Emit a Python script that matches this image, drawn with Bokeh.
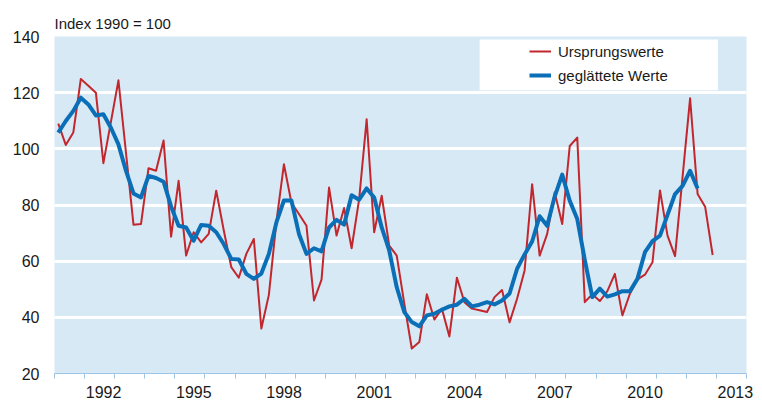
from bokeh.plotting import figure
from bokeh.models import (FixedTicker, CustomJSTickFormatter, Legend, LegendItem,
                          BoxAnnotation, Range1d)
from bokeh.embed import file_html
from bokeh.resources import INLINE

# ---------------- data (quarterly, 1991 Q1 .. 2012 Q4) ----------------
start_year = 1991
end_year = 2012

ursprungswerte = [
    109.0, 101.4, 105.8, 124.9,   # 1991
    122.5, 120.0, 94.9, 109.6,    # 1992
    124.4, 98.7, 73.0, 73.2,      # 1993
    93.1, 92.2, 103.0, 68.7,      # 1994
    88.6, 62.0, 70.3, 66.7,       # 1995
    69.7, 85.1, 71.0, 57.9,       # 1996
    54.1, 62.6, 67.9, 36.0,       # 1997
    48.0, 74.0, 94.5, 80.8,       # 1998
    76.8, 72.6, 46.0, 53.4,       # 1999
    86.2, 69.1, 78.9, 64.6,       # 2000
    82.0, 110.5, 70.3, 83.3,      # 2001
    65.5, 62.0, 45.0, 28.9,       # 2002
    31.2, 48.2, 39.2, 43.1,       # 2003
    33.2, 54.1, 45.4, 43.1,       # 2004
    42.5, 41.9, 47.2, 49.7,       # 2005
    38.2, 46.6, 56.7, 87.4,       # 2006
    62.0, 69.7, 84.5, 73.2,       # 2007
    101.0, 104.0, 45.4, 48.2,     # 2008
    45.8, 49.3, 55.5, 40.7,       # 2009
    48.4, 53.5, 55.2, 59.6,       # 2010
    85.2, 69.1, 61.8, 90.0,       # 2011
    118.0, 83.9, 79.4, 62.2,      # 2012
]

geglaettete_werte = [
    105.8, 109.9, 113.5, 118.2,   # 1991
    115.8, 111.9, 112.3, 107.5,   # 1992
    101.6, 92.2, 84.1, 82.7,      # 1993
    90.4, 89.6, 88.3, 79.5,       # 1994
    72.6, 72.0, 67.3, 72.9,       # 1995
    72.6, 70.3, 66.1, 60.8,       # 1996
    60.6, 55.5, 53.7, 55.6,       # 1997
    62.6, 73.8, 81.6, 81.6,       # 1998
    69.7, 62.6, 64.6, 63.5,       # 1999
    72.0, 74.7, 73.0, 83.5,       # 2000
    81.9, 85.9, 82.7, 72.0,       # 2001
    63.8, 50.7, 41.9, 38.3,       # 2002
    36.8, 40.7, 41.3, 42.7,       # 2003
    43.9, 44.5, 46.6, 43.9,       # 2004
    44.5, 45.4, 44.6, 46.0,       # 2005
    48.5, 57.3, 62.4, 67.0,       # 2006
    76.0, 72.6, 83.0, 90.8,       # 2007
    81.5, 75.0, 60.5, 47.2,       # 2008
    50.2, 47.4, 48.2, 49.3,       # 2009
    49.3, 53.7, 63.2, 67.1,       # 2010
    69.1, 76.5, 83.9, 86.8,       # 2011
    92.2, 85.9,                   # 2012 (Q1, Q2)
]

tick_years = [1992, 1995, 1998, 2001, 2004, 2007, 2010, 2013]
y_ticks = [20, 40, 60, 80, 100, 120, 140]
grid_values = [40, 60, 80, 100, 120]
legend_labels = ["Ursprungswerte", "geglättete Werte"]
title_text = "Index 1990 = 100"

# quarter mid-points on a continuous year axis
quarters = [y + (q - 0.5) / 4 for y in range(start_year, end_year + 1) for q in range(1, 5)]

RED = "#c1272d"
BLUE = "#0b6fb8"
BG = "#d6e9f5"
AXIS_BLUE = "#9ec4e6"
FONT = "Liberation Sans"
TEXT = "#1a1a1a"

p = figure(width=762, height=401, output_backend="svg", toolbar_location=None,
           x_range=Range1d(start_year, 2014), y_range=Range1d(20, 140),
           min_border_left=54, min_border_right=16, min_border_top=36,
           min_border_bottom=28)

p.background_fill_color = BG
p.border_fill_color = "white"
p.outline_line_color = None

p.title.text = title_text
p.title.align = "left"
p.title.text_font = FONT
p.title.text_font_size = "15px"
p.title.text_font_style = "normal"
p.title.text_color = TEXT
p.title.standoff = 9

# x axis
xa = p.xaxis[0]
xa.ticker = FixedTicker(ticks=[y + 0.63 for y in tick_years],
                        minor_ticks=list(range(start_year, 2015)))
xa.formatter = CustomJSTickFormatter(code="return String(Math.floor(tick));")
xa.axis_line_color = AXIS_BLUE
xa.axis_line_width = 1
xa.major_tick_line_color = None
xa.major_tick_out = 0
xa.major_tick_in = 0
xa.minor_tick_line_color = AXIS_BLUE
xa.minor_tick_out = 5
xa.minor_tick_in = 0
xa.major_label_text_font = FONT
xa.major_label_text_font_size = "16px"
xa.major_label_text_color = TEXT
xa.major_label_standoff = 7

# y axis
ya = p.yaxis[0]
ya.ticker = FixedTicker(ticks=y_ticks)
ya.axis_line_color = None
ya.major_tick_line_color = None
ya.minor_tick_line_color = None
ya.major_tick_out = 0
ya.major_tick_in = 0
ya.major_label_standoff = 15
ya.major_label_text_font = FONT
ya.major_label_text_font_size = "16px"
ya.major_label_text_color = TEXT

p.xgrid.visible = False
p.ygrid.ticker = FixedTicker(ticks=grid_values)
p.ygrid.grid_line_color = "white"
p.ygrid.grid_line_width = 3

r_red = p.line(quarters[:len(ursprungswerte)], ursprungswerte,
               line_color=RED, line_width=2, line_join="round")
r_blue = p.line(quarters[:len(geglaettete_werte)], geglaettete_werte,
                line_color=BLUE, line_width=4, line_join="round")

box = BoxAnnotation(left=2005.13, right=2013.05, bottom=120.9, top=138.9,
                    fill_color="white", fill_alpha=1.0, line_color=None)
p.add_layout(box)

legend = Legend(items=[LegendItem(label=legend_labels[0], renderers=[r_red]),
                       LegendItem(label=legend_labels[1], renderers=[r_blue])],
                location=(475, 288), background_fill_alpha=0, border_line_alpha=0,
                padding=0, margin=0, spacing=4, glyph_width=22, glyph_height=20,
                label_height=20, label_standoff=7,
                label_text_font=FONT, label_text_font_size="15px",
                label_text_color=TEXT)
p.add_layout(legend)

open("out.html", "w").write(file_html(p, INLINE))
